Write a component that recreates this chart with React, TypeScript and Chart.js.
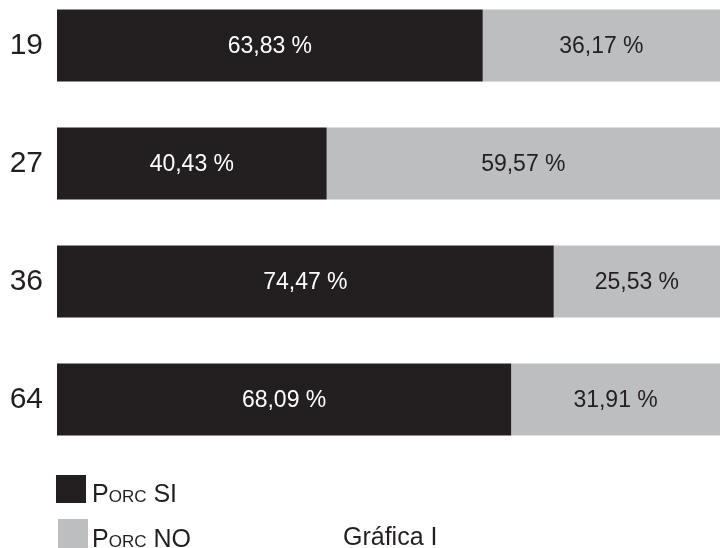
import React, { useEffect, useRef } from "react";
import { Chart, registerables } from "chart.js";

Chart.register(...registerables);

const categories = ["19", "27", "36", "64"];
const porcSi = [63.83, 40.43, 74.47, 68.09];
const porcNo = [36.17, 59.57, 25.53, 31.91];
const seriesLabels = ["Porc SI", "Porc NO"];
const chartTitle = "Gráfica I";

const DARK = "#231f20";
const GREY = "#bcbec0";
const FONT = "Arial, 'Liberation Sans', sans-serif";
const OFFSET_Y = 50;

function fmt(v: number) {
  return v.toFixed(2).replace(".", ",") + " %";
}

function drawSmallCaps(ctx: CanvasRenderingContext2D, text: string, x: number, y: number, big: number, small: number) {
  let cx = x;
  for (const ch of text) {
    const isLower = ch !== ch.toUpperCase();
    ctx.font = `${isLower ? small : big}px ${FONT}`;
    const c = ch.toUpperCase();
    ctx.fillText(c, cx, y);
    cx += ctx.measureText(c).width;
  }
}

const labelPlugin = {
  id: "barLabels",
  afterDatasetsDraw(chart: any) {
    const ctx = chart.ctx as CanvasRenderingContext2D;
    ctx.save();
    ctx.font = `23px ${FONT}`;
    ctx.textAlign = "center";
    ctx.textBaseline = "middle";
    chart.data.datasets.forEach((ds: any, di: number) => {
      const meta = chart.getDatasetMeta(di);
      meta.data.forEach((bar: any, i: number) => {
        const left = Math.min(bar.base, bar.x);
        const right = Math.max(bar.base, bar.x);
        ctx.fillStyle = di === 0 ? "#ffffff" : DARK;
        ctx.fillText(fmt(ds.data[i]), (left + right) / 2 - (di === 0 ? 0 : 2), bar.y + 1);
      });
    });
    ctx.restore();
  },
  afterDraw(chart: any) {
    const ctx = chart.ctx as CanvasRenderingContext2D;
    ctx.save();
    const ds = chart.data.datasets;
    ctx.fillStyle = ds[0].backgroundColor;
    ctx.fillRect(56, 475 + OFFSET_Y, 30, 28);
    ctx.fillStyle = ds[1].backgroundColor;
    ctx.fillRect(58, 519 + OFFSET_Y, 30, 29);
    ctx.fillStyle = DARK;
    ctx.textAlign = "left";
    ctx.textBaseline = "alphabetic";
    drawSmallCaps(ctx, ds[0].label, 92, 502 + OFFSET_Y, 25, 17);
    drawSmallCaps(ctx, ds[1].label, 92, 547 + OFFSET_Y, 25, 17);
    ctx.font = `25px ${FONT}`;
    ctx.fillText(chartTitle, 343, 545 + OFFSET_Y);
    ctx.restore();
  },
};

export default function App() {
  const ref = useRef<HTMLCanvasElement | null>(null);
  useEffect(() => {
    if (!ref.current) return;
    const chart = new Chart(ref.current, {
      type: "bar",
      data: {
        labels: categories,
        datasets: [
          {
            label: seriesLabels[0],
            data: porcSi,
            backgroundColor: DARK,
            borderWidth: 0,
            categoryPercentage: 1,
            barPercentage: 0.61,
          },
          {
            label: seriesLabels[1],
            data: porcNo,
            backgroundColor: GREY,
            borderWidth: 0,
            categoryPercentage: 1,
            barPercentage: 0.61,
          },
        ],
      },
      options: {
        indexAxis: "y",
        responsive: false,
        animation: false,
        devicePixelRatio: 1,
        layout: { padding: { top: OFFSET_Y - 13.4, bottom: 548 + OFFSET_Y - (458.6 + OFFSET_Y), left: 0, right: 6 } },
        plugins: { legend: { display: false }, tooltip: { enabled: false } },
        scales: {
          x: { stacked: true, min: 0, max: 100, display: false },
          y: {
            stacked: true,
            grid: { display: false, drawTicks: false },
            border: { display: false },
            ticks: {
              padding: 14,
              color: DARK,
              font: { family: FONT, size: 30 },
            },
            afterFit: (scale: any) => {
              scale.width = 57;
            },
          },
        },
      },
      plugins: [labelPlugin],
    });
    return () => chart.destroy();
  }, []);
  return (
    <div
      style={{
        position: "fixed",
        left: 0,
        top: 0,
        width: 720,
        height: 548,
        overflow: "hidden",
        background: "#ffffff",
      }}
    >
      <canvas
        ref={ref}
        width={730}
        height={548 + OFFSET_Y}
        style={{ position: "absolute", left: 0, top: -OFFSET_Y, width: 730, height: 548 + OFFSET_Y }}
      />
    </div>
  );
}
